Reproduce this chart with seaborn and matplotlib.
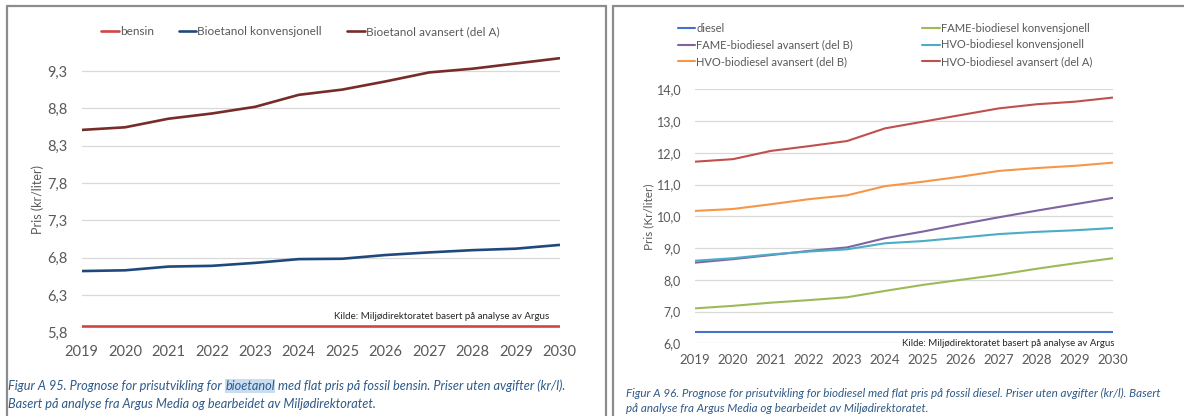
#%%
import numpy as np
import pandas as pd
import matplotlib.pyplot as plt
import seaborn as sns
from matplotlib.lines import Line2D

sns.set_style("white")
plt.rcParams['font.family'] = ['Lato', 'DejaVu Sans']

years = list(range(2019, 2031))

# venstre figur, bensin / bioetanol
bensin = [5.89]*12
etanol_konv = [6.62, 6.63, 6.68, 6.69, 6.73, 6.78, 6.785, 6.835, 6.87, 6.90, 6.92, 6.97]
etanol_avan = [8.51, 8.545, 8.66, 8.73, 8.82, 8.98, 9.05, 9.16, 9.28, 9.33, 9.40, 9.47]
names_left = ['bensin', 'Bioetanol konvensjonell', 'Bioetanol avansert (del A)']
colors_left = ['#D04545', '#1F497D', '#772C2A']
yticks_left = [5.8, 6.3, 6.8, 7.3, 7.8, 8.3, 8.8, 9.3]
ylabels_left = ['5,8', '6,3', '6,8', '7,3', '7,8', '8,3', '8,8', '9,3']

# hoyre figur, diesel / biodiesel
diesel = [6.35]*12
fame_konv = [7.10, 7.18, 7.28, 7.36, 7.45, 7.65, 7.84, 8.00, 8.16, 8.35, 8.52, 8.68]
fame_avan_b = [8.54, 8.65, 8.78, 8.91, 9.02, 9.31, 9.52, 9.75, 9.97, 10.18, 10.38, 10.58]
hvo_konv = [8.60, 8.68, 8.80, 8.89, 8.96, 9.15, 9.22, 9.33, 9.44, 9.51, 9.56, 9.63]
hvo_avan_b = [10.17, 10.23, 10.38, 10.54, 10.66, 10.95, 11.09, 11.25, 11.43, 11.52, 11.59, 11.69]
hvo_avan_a = [11.72, 11.80, 12.06, 12.21, 12.37, 12.77, 12.98, 13.19, 13.40, 13.53, 13.61, 13.74]
names_right = ['diesel', 'FAME-biodiesel konvensjonell', 'FAME-biodiesel avansert (del B)',
               'HVO-biodiesel konvensjonell', 'HVO-biodiesel avansert (del B)', 'HVO-biodiesel avansert (del A)']
colors_right = ['#4472C4', '#9BBB59', '#8064A2', '#4BACC6', '#F79646', '#C0504D']
yticks_right = [6, 7, 8, 9, 10, 11, 12, 13, 14]
ylabels_right = ['6,0', '7,0', '8,0', '9,0', '10,0', '11,0', '12,0', '13,0', '14,0']

kilde = 'Kilde: Miljødirektoratet basert på analyse av Argus'

df_left = pd.DataFrame({'year': years*3,
                        'pris': bensin + etanol_konv + etanol_avan,
                        'serie': np.repeat(names_left, 12)})
df_right = pd.DataFrame({'year': years*6,
                         'pris': diesel + fame_konv + fame_avan_b + hvo_konv + hvo_avan_b + hvo_avan_a,
                         'serie': np.repeat(names_right, 12)})

W, H = 1184, 416
fig = plt.figure(figsize=(W/100, H/100), dpi=100)
ax1 = fig.add_axes([81.5/W, 1-332.3/H, 478/W, 276.3/H])
ax2 = fig.add_axes([695/W, 1-343.3/H, 418/W, 254/H])

tickcol = '#595959'
gridcol = '#D9D9D9'

#%% venstre
sns.lineplot(data=df_left, x='year', y='pris', hue='serie', hue_order=names_left,
             palette=colors_left, linewidth=1.9, legend=False, ax=ax1)
ax1.set_xlim(2019, 2030)
ax1.set_ylim(5.8, 9.5)
ax1.set_xticks(years)
ax1.set_xticklabels([str(y) for y in years])
ax1.set_yticks(yticks_left)
ax1.set_yticklabels(ylabels_left)
ax1.tick_params(axis='x', length=0, pad=9, labelsize=10.5, labelcolor=tickcol)
ax1.tick_params(axis='y', length=0, pad=10, labelsize=10.5, labelcolor=tickcol)
ax1.set_xlabel('')
ax1.set_ylabel('Pris (kr/liter)', fontsize=9, color=tickcol)
ax1.yaxis.set_label_coords(-0.078, 0.48)
ax1.grid(axis='y', color=gridcol, lw=0.9)
ax1.set_axisbelow(True)
sns.despine(ax=ax1, left=True, bottom=True)

fig.legend(ax1.get_lines()[:3], names_left, loc='center left', bbox_to_anchor=(95/W, 1-31.7/H),
           ncol=3, frameon=False, fontsize=8.5, handlelength=1.5, handletextpad=0.1,
           columnspacing=2.1, borderpad=0, labelcolor=tickcol)
fig.text(549/W, 1-316.7/H, kilde, ha='right', va='center', fontsize=7, color='#262626')

#%% hoyre
sns.lineplot(data=df_right, x='year', y='pris', hue='serie', hue_order=names_right,
             palette=colors_right, linewidth=1.5, legend=False, ax=ax2)
ax2.set_xlim(2019, 2030)
ax2.set_ylim(6, 14)
ax2.set_xticks(years)
ax2.set_xticklabels([str(y) for y in years])
ax2.set_yticks(yticks_right)
ax2.set_yticklabels(ylabels_right)
ax2.tick_params(axis='x', length=0, pad=8, labelsize=9.5, labelcolor=tickcol)
ax2.tick_params(axis='y', length=0, pad=10, labelsize=9, labelcolor=tickcol)
ax2.set_xlabel('')
ax2.set_ylabel('Pris (Kr/liter)', fontsize=8.5, color=tickcol)
ax2.yaxis.set_label_coords(-0.098, 0.5)
ax2.grid(axis='y', color=gridcol, lw=0.9)
ax2.set_axisbelow(True)
sns.despine(ax=ax2, left=True, bottom=True)

lines_r = ax2.get_lines()[:6]
order = [0, 2, 4, 1, 3, 5]
fig.legend([lines_r[i] for i in order], [names_right[i] for i in order], loc='center left',
           bbox_to_anchor=(672/W, 1-45/H), ncol=2, frameon=False, fontsize=8,
           handlelength=1.6, handletextpad=0.1, columnspacing=6.2, labelspacing=0.5,
           borderpad=0, labelcolor=tickcol)
fig.text(1115/W, 1-343/H, kilde, ha='right', va='center', fontsize=6.9, color='#262626')

#%% rammer og figurtekster
bcol = '#8C8C8C'
for xs, ys in [([6.5, 6.5], [0, H-5.5]), ([6.5, 606], [H-5.5, H-5.5]), ([606, 606], [H-5.5, 0]),
               ([612.5, 612.5], [0, H-5.5]), ([612.5, W], [H-5.5, H-5.5])]:
    fig.add_artist(Line2D([xs[0]/W, xs[1]/W], [ys[0]/H, ys[1]/H], color=bcol, lw=1.6))

capcol = '#2E5A88'
t1 = fig.text(8/W, 1-386/H, 'Figur A 95. Prognose for prisutvikling for', fontsize=9.2,
              style='italic', color=capcol, va='center', ha='left')
t2 = ax1.annotate('bioetanol', xy=(1, 0), xycoords=t1, xytext=(2.5, 0), textcoords='offset points',
                  fontsize=9.2, style='italic', color=capcol, va='bottom', ha='left',
                  bbox=dict(boxstyle='square,pad=0.05', fc='#C9DDF2', ec='none'), annotation_clip=False)
ax1.annotate('med flat pris på fossil bensin. Priser uten avgifter (kr/l).', xy=(1, 0), xycoords=t2,
             xytext=(2.5, 0), textcoords='offset points', fontsize=9.2, style='italic',
             color=capcol, va='bottom', ha='left', annotation_clip=False)
fig.text(8/W, 1-404/H, 'Basert på analyse fra Argus Media og bearbeidet av Miljødirektoratet.',
         fontsize=9.2, style='italic', color=capcol, va='center', ha='left')

fig.text(626/W, 1-393/H, 'Figur A 96. Prognose for prisutvikling for biodiesel med flat pris på fossil diesel. '
         'Priser uten avgifter (kr/l). Basert', fontsize=8.4, style='italic', color=capcol,
         va='center', ha='left')
fig.text(626/W, 1-409/H, 'på analyse fra Argus Media og bearbeidet av Miljødirektoratet.',
         fontsize=8.4, style='italic', color=capcol, va='center', ha='left')

fig.savefig('out.png', dpi=100)
